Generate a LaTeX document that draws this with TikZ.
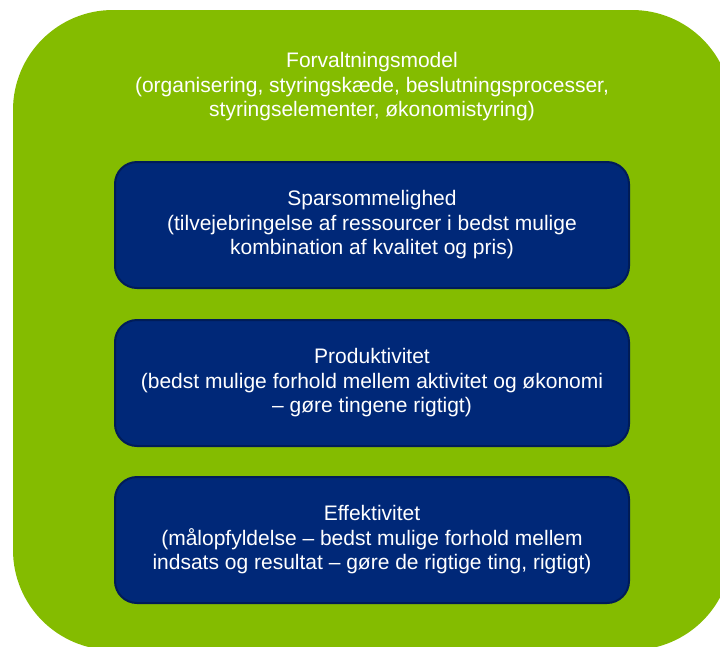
\documentclass[tikz,border=0pt]{standalone}
\usepackage{fontspec}
\setmainfont{Liberation Sans}
\usetikzlibrary{positioning}

\definecolor{frameGreen}{RGB}{132,188,0}
\definecolor{boxBlue}{RGB}{0,40,120}
\definecolor{boxEdge}{RGB}{0,28,88}

\begin{document}
\begin{tikzpicture}[
  x=1pt, y=-1pt,
  block/.style = {draw=boxEdge, line width=2pt, fill=boxBlue, text=white, rounded corners=22pt,
                  minimum width=514pt, minimum height=126pt, align=center,
                  font=\fontsize{21}{24.5}\selectfont},
  heading/.style = {text=white, align=center, font=\fontsize{21}{24.5}\selectfont},
  node distance=30pt
]

  \useasboundingbox (0,0) rectangle (720,646);

  % Green frame (runs off the right and bottom edge)
  \begin{scope}
    \clip (0,0) rectangle (720,646);
    \fill[frameGreen, rounded corners=100pt] (13,10) rectangle (732,650);
  \end{scope}

  % Title of the frame
  \node[heading] (model) at (372,87) {
    Forvaltningsmodel \\
    (organisering, styringskæde, beslutningsprocesser, \\
    styringselementer, økonomistyring)
  };

  % Sparsommelighed
  \node[block] (spar) at (372,225) {
    Sparsommelighed \\
    (tilvejebringelse af ressourcer i bedst mulige \\
    kombination af kvalitet og pris)
  };

  % Produktivitet
  \node[block, below=of spar] (prod) {
    Produktivitet \\
    (bedst mulige forhold mellem aktivitet og økonomi \\
    – gøre tingene rigtigt)
  };

  % Effektivitet
  \node[block, below=29pt of prod] (effekt) {
    Effektivitet \\
    (målopfyldelse – bedst mulige forhold mellem \\
    indsats og resultat – gøre de rigtige ting, rigtigt)
  };

\end{tikzpicture}
\end{document}
